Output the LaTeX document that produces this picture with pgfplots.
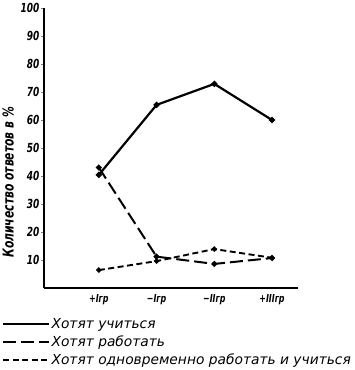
\documentclass[border=0pt]{standalone}
\usepackage{pgfplots}
\pgfplotsset{compat=1.18}
\usepackage{fontspec}
\setmainfont{DejaVu Sans}
\newfontfamily\tickfont[FakeStretch=0.8]{DejaVu Sans Condensed}
\begin{document}
\begin{tikzpicture}[font=\itshape]
\useasboundingbox (-44pt,-82pt) rectangle (311pt,288pt);
\begin{axis}[
  at={(0,0)}, anchor=south west,
  scale only axis, width=254pt, height=280pt,
  xmin=-0.95, xmax=3.45, ymin=0, ymax=100,
  axis lines=left, axis line style={line width=1.6pt, -},
  xtick={0,1,2,3},
  xticklabels={+Iгр,−Iгр,−IIгр,+IIIгр},
  ytick={10,20,...,100},
  major x tick style={draw=none},
  tick align=outside, major tick length=3pt, major tick style={line width=1pt},
  tick label style={font=\tickfont\bfseries\itshape\fontsize{12.5}{12}\selectfont},
  xticklabel style={font=\tickfont\bfseries\itshape\fontsize{11}{12}\selectfont},
  yticklabel style={xshift=2pt},
  /pgf/number format/assume math mode=true,
  ylabel={Количество ответов в \%},
  ylabel style={font=\tickfont\bfseries\itshape\fontsize{15}{15}\selectfont, at={(ticklabel cs:0.37)}, xshift=2pt},
  legend style={at={(rel axis cs:-0.165,-0.103)}, anchor=north west, draw=none, fill=none,
     font=\itshape\fontsize{13.8}{15}\selectfont, row sep=4pt, inner sep=0pt,
     nodes={inner sep=1pt}},
  legend cell align=left,
  legend image code/.code={\draw[#1, line width=2.4pt] (0pt,0pt) -- (36pt,0pt); \path (0pt,0pt) -- (46pt,0pt);},
  clip=false,
]
\addplot[black, line width=2.2pt, mark=*, mark size=1.8pt] coordinates {(0,40.4) (1,65.4) (2,72.9) (3,60)};
\addplot[black, line width=2pt, dash pattern=on 13pt off 5pt, mark=*, mark size=1.8pt, mark options={solid}] coordinates {(0,43) (1,11.2) (2,8.6) (3,10.7)};
\addplot[black, line width=1.9pt, dash pattern=on 6pt off 3.5pt, mark=*, mark size=1.6pt, mark options={solid}] coordinates {(0,6.4) (1,9.6) (2,13.9) (3,10.8)};
\legend{Хотят учиться, Хотят работать, Хотят одновременно работать и учиться}
\end{axis}
\end{tikzpicture}
\end{document}
